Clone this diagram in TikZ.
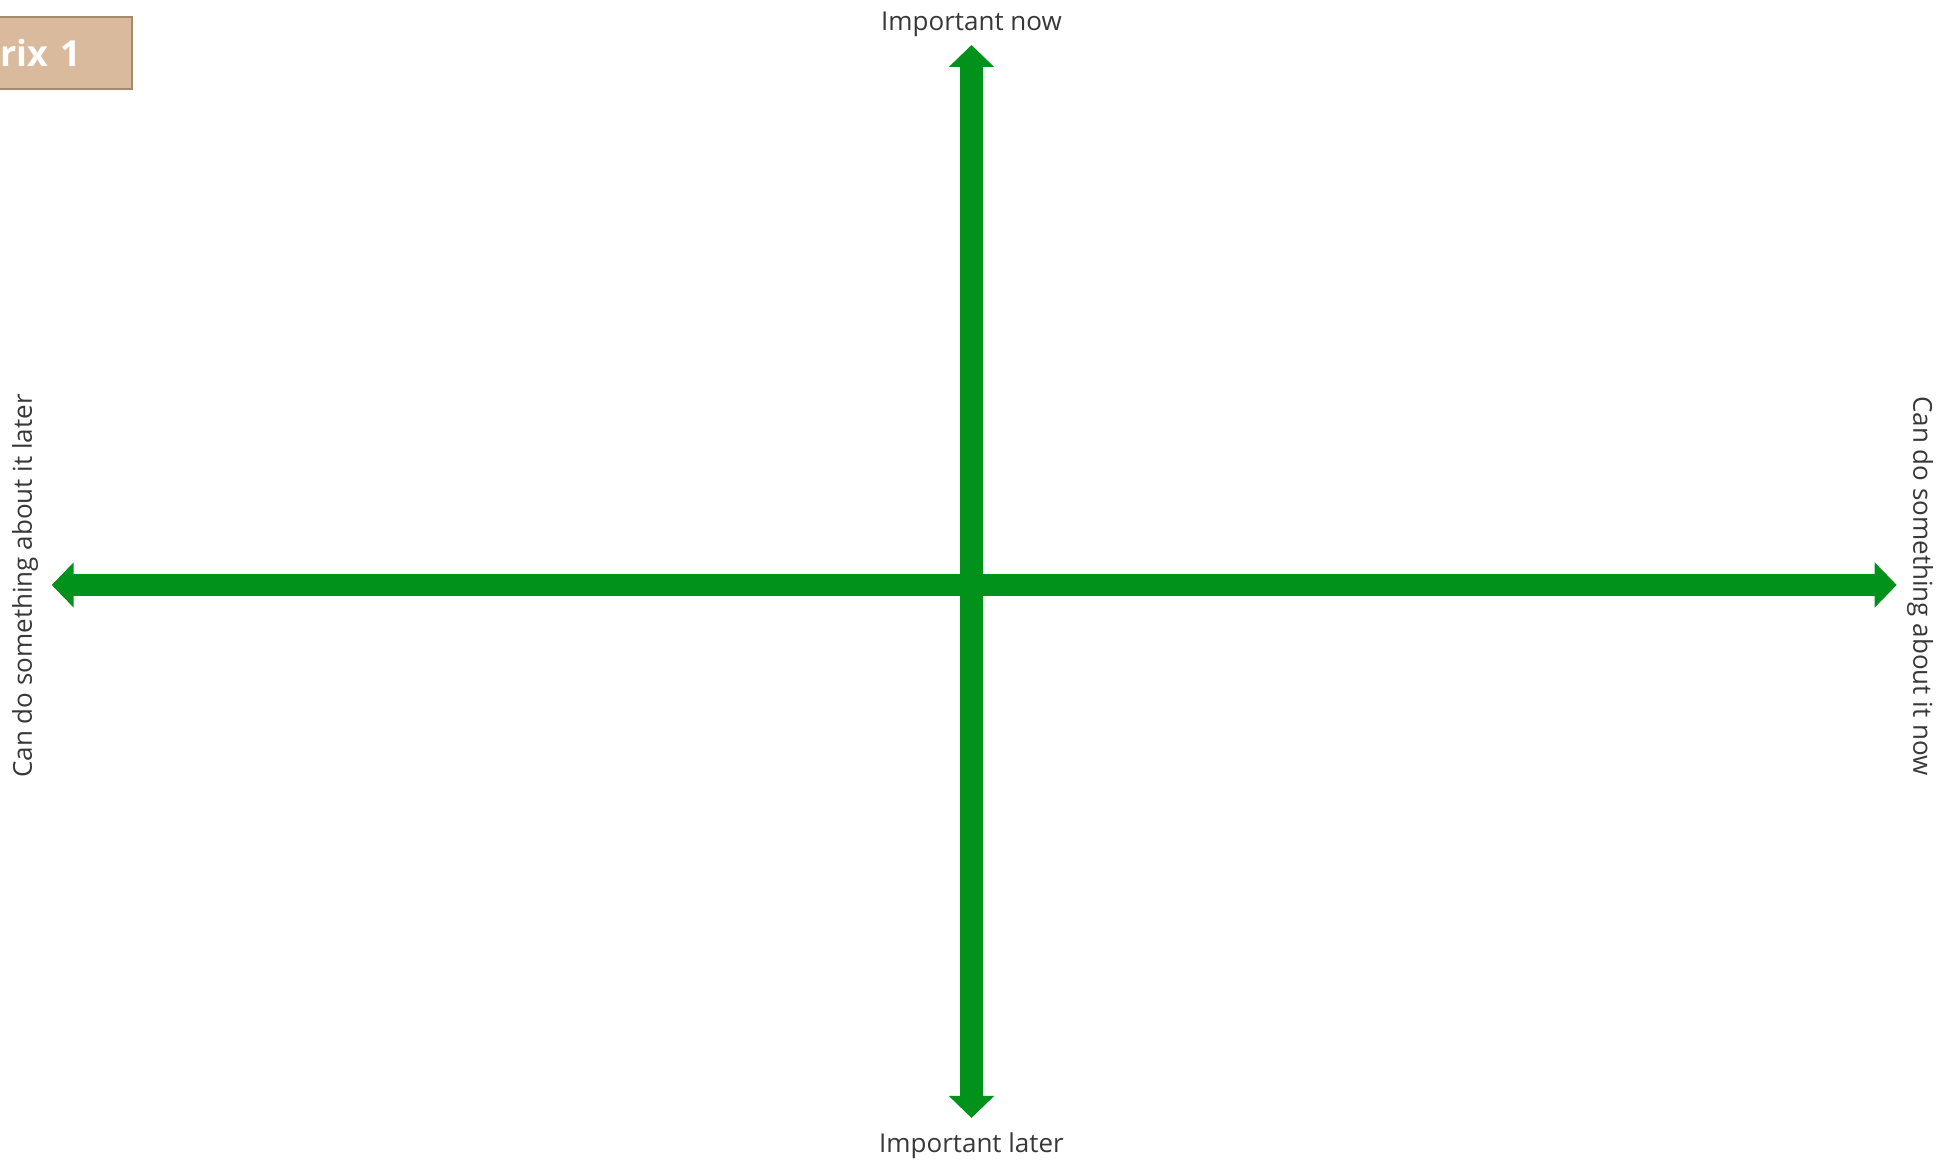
\documentclass[tikz,border=0pt]{standalone}
\usepackage{fontspec}
\setmainfont{Open Sans}
\usepackage{xcolor}
\usepackage{tikz}
\usetikzlibrary{arrows.meta,positioning}
\definecolor{axisgreen}{HTML}{00921A}
\definecolor{labelgray}{HTML}{383838}
\definecolor{tabtan}{HTML}{D9BA9C}
\definecolor{tabedge}{HTML}{A38B72}
\tikzset{
  axisarrow/.style={
    {Triangle[length=2.2mm,width=4.4mm]}-{Triangle[length=2.2mm,width=4.4mm]},
    line width=2.25mm, color=axisgreen
  },
  axislabel/.style={
    font=\fontsize{7.4}{8.5}\selectfont, color=labelgray,
    inner sep=0pt
  },
  tabbox/.style={
    rectangle, draw=tabedge, fill=tabtan, line width=0.25mm,
    text width=12.9mm, minimum height=7.2mm, align=left,
    inner xsep=0.3mm, inner ysep=0pt,
    font=\bfseries\fontsize{10.2}{12}\selectfont, text=white
  },
}

\begin{document}
\begin{tikzpicture}[x=0.1mm,y=0.1mm]
  \useasboundingbox (0,0) rectangle (1955,1160);

  % axis ends
  \coordinate (top) at (971.5,1115);
  \coordinate (bottom) at (971.5,42);
  \coordinate (left) at (51.7,575);
  \coordinate (right) at (1896.7,575);

  \draw[axisarrow] (bottom) -- (top);
  \draw[axisarrow] (left) -- (right);

  % Labels
  \node[axislabel] (now) at (971.5,1136) {Important now};
  \node[axislabel] (later) at (971.5,14) {Important later};
  \node[axislabel, rotate=90] (canlater) at (25,574)
    {Can do something about it later};
  \node[axislabel, rotate=-90] (cannow) at (1920,574)
    {Can do something about it now};

  \node[tabbox, anchor=west] (tab) at (-4,1107) {rix 1};
\end{tikzpicture}
\end{document}
